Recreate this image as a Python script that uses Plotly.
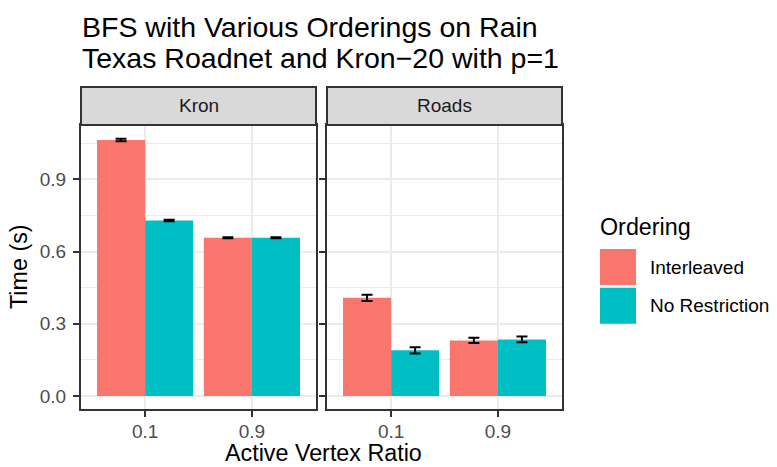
import plotly.graph_objects as go

ratios = ["0.1", "0.9"]
orderings = ["Interleaved", "No Restriction"]
colors = ["#F8766D", "#00BFC4"]

kron_interleaved = [1.063, 0.657]
kron_interleaved_err = [0.005, 0.002]
kron_norestr = [0.729, 0.657]
kron_norestr_err = [0.003, 0.002]

roads_interleaved = [0.408, 0.231]
roads_interleaved_err = [0.013, 0.011]
roads_norestr = [0.190, 0.235]
roads_norestr_err = [0.013, 0.012]

y_tickvals = [0, 0.3, 0.6, 0.9]
y_ticktext = ["0.0", "0.3", "0.6", "0.9"]

W, H = 777, 467
def px(x): return x / W
def py(y): return 1 - y / H

panels = [
    ("Kron", "x", "y", [kron_interleaved, kron_norestr], [kron_interleaved_err, kron_norestr_err], (81, 316)),
    ("Roads", "x2", "y2", [roads_interleaved, roads_norestr], [roads_interleaved_err, roads_norestr_err], (327, 562)),
]

fig = go.Figure()
for name, xa, ya, vals, errs, _ in panels:
    for i, o in enumerate(orderings):
        fig.add_trace(go.Bar(
            x=ratios, y=vals[i], name=o, marker=dict(color=colors[i], line=dict(width=0)),
            offsetgroup=str(i), xaxis=xa, yaxis=ya, showlegend=False,
            error_y=dict(type="data", array=errs[i], visible=True, color="black", thickness=2, width=5.5),
        ))

font = "Liberation Sans, Arial, sans-serif"
SMALL = 19
BASE = 23.3
TITLE = 28.5
ytop, ybot = 125, 409
axis_common = dict(
    type="category", range=[-0.6, 1.6], showline=True, mirror=True, linecolor="#333333", linewidth=2,
    showgrid=True, gridcolor="#EBEBEB", gridwidth=2, ticks="outside", ticklen=6, tickwidth=2, tickcolor="#333333",
    tickfont=dict(family=font, size=SMALL, color="#4D4D4D"), zeroline=False, automargin=False,
)
y_common = dict(
    range=[-0.0536, 1.125], showline=True, mirror=True, linecolor="#333333", linewidth=2,
    showgrid=True, gridcolor="#EBEBEB", gridwidth=2, ticks="outside", ticklen=6, tickwidth=2, tickcolor="#333333",
    tickvals=y_tickvals, ticktext=y_ticktext,
    tickfont=dict(family=font, size=SMALL, color="#4D4D4D"), zeroline=False, automargin=False,
    minor=dict(tickvals=[0.15, 0.45, 0.75, 1.05], showgrid=True, gridcolor="#EBEBEB", gridwidth=1, ticks=""),
    domain=[py(ybot), py(ytop)],
)

fig.update_layout(
    width=W, height=H, margin=dict(l=0, r=0, t=0, b=0),
    paper_bgcolor="white", plot_bgcolor="white",
    barmode="group", bargap=0.1, bargroupgap=0,
    xaxis=dict(domain=[px(81), px(316)], anchor="y", ticklabelstandoff=-2, **axis_common),
    xaxis2=dict(domain=[px(327), px(562)], anchor="y2", ticklabelstandoff=-2, **axis_common),
    yaxis=dict(anchor="x", ticklabelstandoff=3, **y_common),
    yaxis2=dict(anchor="x2", matches="y", showticklabels=False, **y_common),
    font=dict(family=font),
)

shapes = []
annotations = []
# strips
for name, _, _, _, _, (x0, x1) in panels:
    shapes.append(dict(type="rect", xref="paper", yref="paper", x0=px(x0), x1=px(x1), y0=py(ytop), y1=py(87),
                       fillcolor="#D9D9D9", line=dict(color="#333333", width=2), layer="above"))
    annotations.append(dict(text=name, xref="paper", yref="paper", x=px((x0 + x1) / 2), y=py(106),
                            showarrow=False, font=dict(family=font, size=SMALL, color="#1A1A1A"),
                            xanchor="center", yanchor="middle"))

# title (two lines)
title_lines = ["BFS with Various Orderings on Rain", "Texas Roadnet and Kron\u221220 with p=1"]
for j, (line, yc) in enumerate(zip(title_lines, [27, 58])):
    annotations.append(dict(text=line, xref="paper", yref="paper", x=px(80), y=py(yc), xanchor="left",
                            yanchor="middle", showarrow=False, font=dict(family=font, size=TITLE, color="black")))
# axis titles
annotations.append(dict(text="Active Vertex Ratio", xref="paper", yref="paper", x=px(323), y=0,
                        xanchor="center", yanchor="bottom", showarrow=False, borderpad=0,
                        font=dict(family=font, size=BASE, color="black")))
annotations.append(dict(text="Time (s)", xref="paper", yref="paper", x=px(19), y=py(267),
                        xanchor="center", yanchor="middle", textangle=-90, showarrow=False,
                        font=dict(family=font, size=BASE, color="black")))
# legend
annotations.append(dict(text="Ordering", xref="paper", yref="paper", x=px(598), y=py(227),
                        xanchor="left", yanchor="middle", showarrow=False,
                        font=dict(family=font, size=BASE, color="black")))
for i, o in enumerate(orderings):
    y0 = 249 + i * 38.7
    shapes.append(dict(type="rect", xref="paper", yref="paper", x0=px(600), x1=px(636), y0=py(y0), y1=py(y0 + 36),
                       fillcolor=colors[i], line=dict(width=0)))
    annotations.append(dict(text=o, xref="paper", yref="paper", x=px(648), y=py(y0 + 18),
                            xanchor="left", yanchor="middle", showarrow=False,
                            font=dict(family=font, size=SMALL, color="black")))

fig.update_layout(shapes=shapes, annotations=annotations)
fig.write_html("out.html", config={"displayModeBar": False},
               post_script="document.body.style.margin='0px';")
